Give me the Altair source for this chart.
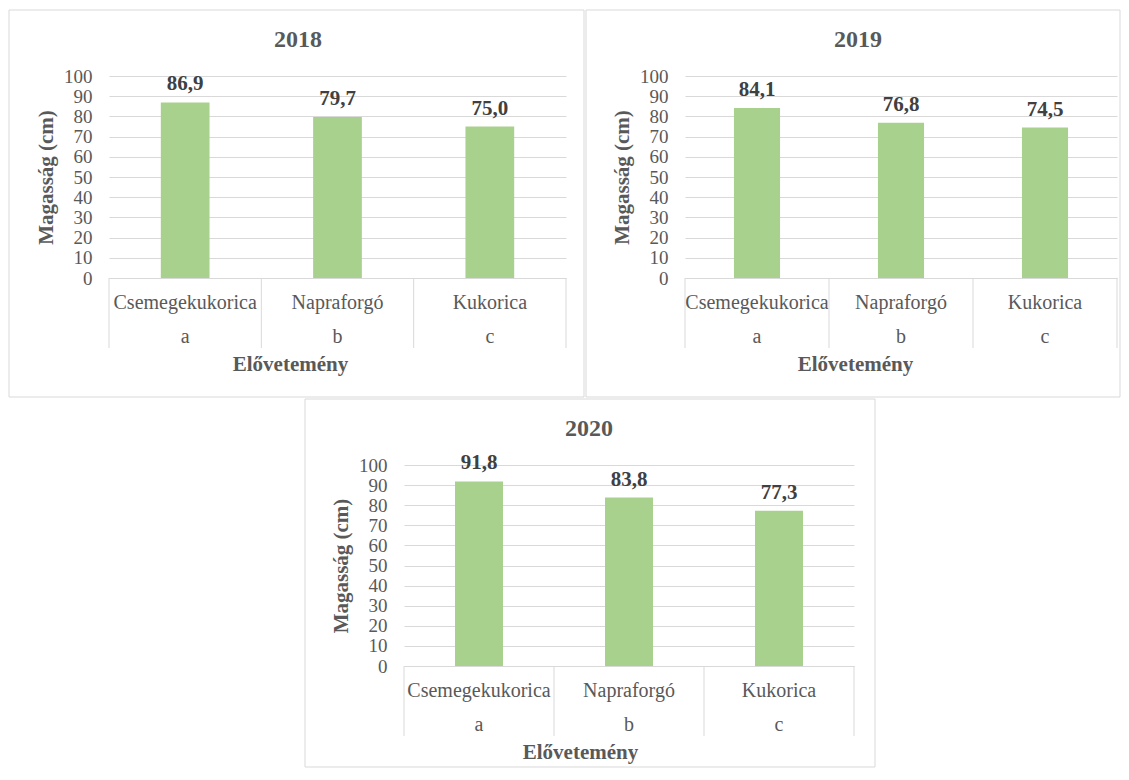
import altair as alt
import pandas as pd

# ---- data ----
crops = ["Csemegekukorica", "Napraforgó", "Kukorica"]
letters = ["a", "b", "c"]
years = ["2018", "2019", "2020"]
values_2018 = [86.9, 79.7, 75.0]
values_2019 = [84.1, 76.8, 74.5]
values_2020 = [91.8, 83.8, 77.3]
y_ticks = [0, 10, 20, 30, 40, 50, 60, 70, 80, 90, 100]

FONT = "Liberation Serif"
GREEN = "#A9D18E"
GRID = "#D9D9D9"
TXT = "#595959"
VAL = "#404040"


def panel(year, vals, w, h, border, title_x, xtitle_x):
    df = pd.DataFrame({"crop": crops, "letter": letters, "v": vals})
    one = pd.DataFrame({"k": [0]})
    base = alt.Chart(df)
    xs = alt.Scale(type="band", domain=crops, paddingInner=0, paddingOuter=0)
    x_axis = alt.Axis(
        title="Elővetemény", labelAngle=0, ticks=False, tickSize=0,
        domainColor=GRID, grid=False,
        labelFont=FONT, labelFontSize=20, labelColor=TXT,
        labelPadding=24, labelBaseline="middle", labelLimit=0,
        titleFont=FONT, titleFontSize=21, titleFontWeight="bold", titleColor=TXT,
        titleX=xtitle_x, titleY=86, titleBaseline="middle",
    )
    y_axis = alt.Axis(
        title="Magasság (cm)", values=y_ticks, grid=True, gridColor=GRID,
        domain=False, ticks=False, labelOverlap=False, labelFlush=False,
        labelFont=FONT, labelFontSize=19, labelColor=TXT, labelPadding=17,
        titleFont=FONT, titleFontSize=21, titleFontWeight="bold", titleColor=TXT,
        titleX=-63, titleY=h / 2, titleBaseline="middle",
    )
    ys = alt.Scale(domain=[0, 100], nice=False)
    x_enc = alt.X("crop:N", scale=xs, axis=x_axis)
    y_enc = alt.Y("v:Q", scale=ys, axis=y_axis)

    bars = base.mark_bar(color=GREEN, width=alt.RelativeBandSize(0.32)).encode(
        x=x_enc, y=y_enc
    )
    labels = base.transform_calculate(
        lbl="replace(format(datum.v, '.1f'), '.', ',')"
    ).mark_text(
        font=FONT, fontSize=21, fontWeight="bold", color=VAL,
        baseline="alphabetic", dy=-12,
    ).encode(x=x_enc, y=y_enc, text="lbl:N")
    lets = base.mark_text(
        font=FONT, fontSize=20, color=TXT, baseline="middle"
    ).encode(x=x_enc, y=alt.value(h + 59), text="letter:N")
    seps = base.mark_rule(color=GRID, strokeWidth=1).encode(
        x=alt.X("crop:N", scale=xs, axis=x_axis, bandPosition=0),
        y=alt.value(h), y2=alt.value(h + 70),
    )
    end = alt.Chart(one).mark_rule(color=GRID, strokeWidth=1).encode(
        x=alt.value(w), y=alt.value(h), y2=alt.value(h + 70)
    )
    frame = alt.Chart(one).mark_rect(
        fillOpacity=0, stroke=GRID, strokeWidth=1
    ).encode(
        x=alt.value(border[0]), x2=alt.value(border[1]),
        y=alt.value(border[2]), y2=alt.value(border[3]),
    )
    title = alt.Chart(pd.DataFrame({"t": [year]})).mark_text(
        font=FONT, fontSize=24, fontWeight="bold", color=TXT, baseline="middle"
    ).encode(text="t:N", x=alt.value(title_x), y=alt.value(-36))

    return alt.layer(frame, bars, labels, lets, seps, end, title).properties(
        width=w, height=h
    )


p1 = panel(years[0], values_2018, 457, 202, (-100, 475, -66, 321), 189, 181)
p2 = panel(years[1], values_2019, 432, 202, (-99, 435, -66, 321), 173, 170)
p3 = panel(years[2], values_2020, 450, 201, (-99, 471, -66, 302), 185, 176)

spacer = alt.Chart(pd.DataFrame({"k": [0]})).mark_point(opacity=0, size=1).encode(
    x=alt.value(1), y=alt.value(1)
).properties(width=195, height=10)

chart = alt.vconcat(
    alt.hconcat(p1, p2, spacing=0),
    alt.hconcat(spacer, p3, spacing=0),
    spacing=0,
).properties(
    padding={"left": 0, "top": 1, "right": 0, "bottom": 0}
).configure_view(strokeWidth=0)

chart.save("out.html", embed_options={"renderer": "svg", "actions": False})
